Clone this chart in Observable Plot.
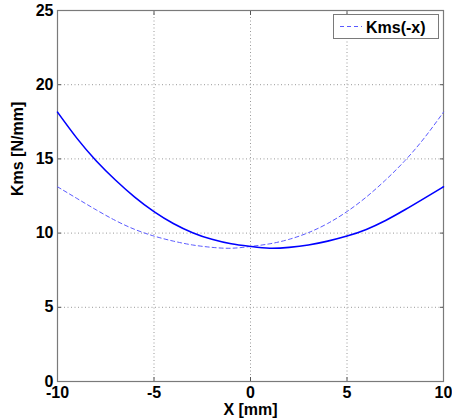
<!DOCTYPE html>
<html>
<head>
<meta charset="utf-8">
<script src="https://cdn.jsdelivr.net/npm/d3@7"></script>
<script src="https://cdn.jsdelivr.net/npm/@observablehq/plot@0.6"></script>
<style>
  html, body { margin: 0; padding: 0; background: #fff; }
  #chart { width: 452px; height: 419px; overflow: hidden; }
</style>
</head>
<body>
<div id="chart"></div>
<script>
// Data
const xValues = [-10, -9, -8, -7, -6, -5, -4, -3, -2, -1, 0, 1, 2, 3, 4, 5, 6, 7, 8, 9, 10];
const kmsX    = [18.15, 16.4, 14.88, 13.58, 12.43, 11.45, 10.65, 10.03, 9.58, 9.28, 9.1, 8.98, 9.04, 9.2, 9.46, 9.8, 10.25, 10.85, 11.57, 12.34, 13.12];
const kmsNegX = [13.12, 12.34, 11.57, 10.85, 10.25, 9.8, 9.46, 9.2, 9.04, 8.98, 9.1, 9.28, 9.58, 10.03, 10.65, 11.45, 12.43, 13.58, 14.88, 16.4, 18.15];
const xTicks = [-10, -5, 0, 5, 10];
const yTicks = [0, 5, 10, 15, 20, 25];
const xLabel = "X [mm]";
const yLabel = "Kms [N/mm]";
const legendLabel = "Kms(-x)";

const solid = xValues.map((x, i) => ({x, y: kmsX[i]}));
const dashed = xValues.map((x, i) => ({x, y: kmsNegX[i]}));

const font = "'Liberation Sans', Arial, Helvetica, sans-serif";
const fmt = d => String(d);

const plot = Plot.plot({
  width: 452,
  height: 419,
  marginLeft: 57,
  marginRight: 9,
  marginTop: 10,
  marginBottom: 38,
  style: {fontFamily: font, fontSize: "16px", fontWeight: "bold", color: "#000", background: "#fff", overflow: "visible"},
  x: {domain: [-10, 10], ticks: xTicks},
  y: {domain: [0, 25], ticks: yTicks},
  marks: [
    Plot.gridX(xTicks.slice(1, -1), {stroke: "#999", strokeOpacity: 1, strokeDasharray: "1,2.5"}),
    Plot.gridY(yTicks.slice(1, -1), {stroke: "#999", strokeOpacity: 1, strokeDasharray: "1,2.5"}),
    // inner tick marks (MATLAB style)
    Plot.axisX(xTicks, {anchor: "bottom", tickSize: 4, dy: -4, text: null, stroke: "#555", label: null}),
    Plot.axisX(xTicks, {anchor: "top", tickSize: 4, dy: 4, text: null, stroke: "#555", label: null}),
    Plot.axisY(yTicks, {anchor: "left", tickSize: 4, dx: 4, text: null, stroke: "#555", label: null}),
    Plot.axisY(yTicks, {anchor: "right", tickSize: 4, dx: -4, text: null, stroke: "#555", label: null}),
    // tick labels
    Plot.axisX(xTicks, {anchor: "bottom", tickSize: 0, tickPadding: 5, label: null, fill: "#000", tickFormat: fmt}),
    Plot.axisY(yTicks, {anchor: "left", tickSize: 0, tickPadding: 4, label: null, fill: "#000", tickFormat: fmt}),
    Plot.frame({stroke: "#7a7a7a", strokeWidth: 1.2}),
    Plot.line(dashed, {x: "x", y: "y", stroke: "#5a5aff", strokeWidth: 1, strokeDasharray: "4,3", curve: "natural"}),
    Plot.line(solid, {x: "x", y: "y", stroke: "#0000ff", strokeWidth: 1.6, curve: "natural"}),
    Plot.text([xLabel], {text: d => d, frameAnchor: "bottom", dy: 33, lineAnchor: "bottom", fill: "#000"}),
    Plot.text([yLabel], {text: d => d, frameAnchor: "left", dx: -40, rotate: -90, fill: "#000"})
  ]
});

document.getElementById("chart").appendChild(plot);

// Legend box (top right, inside the axes)
const svg = d3.select(plot);
const lg = svg.append("g").attr("font-family", font).attr("font-size", 16).attr("font-weight", "bold");
lg.append("rect").attr("x", 333.5).attr("y", 14.5).attr("width", 105).attr("height", 24)
  .attr("fill", "#fff").attr("stroke", "#7a7a7a").attr("stroke-width", 1);
lg.append("line").attr("x1", 340).attr("x2", 362).attr("y1", 26.5).attr("y2", 26.5)
  .attr("stroke", "#5a5aff").attr("stroke-width", 1).attr("stroke-dasharray", "4,3");
lg.append("text").attr("x", 366).attr("y", 32.5).attr("text-anchor", "start").attr("fill", "#000").text(legendLabel);
</script>
</body>
</html>
